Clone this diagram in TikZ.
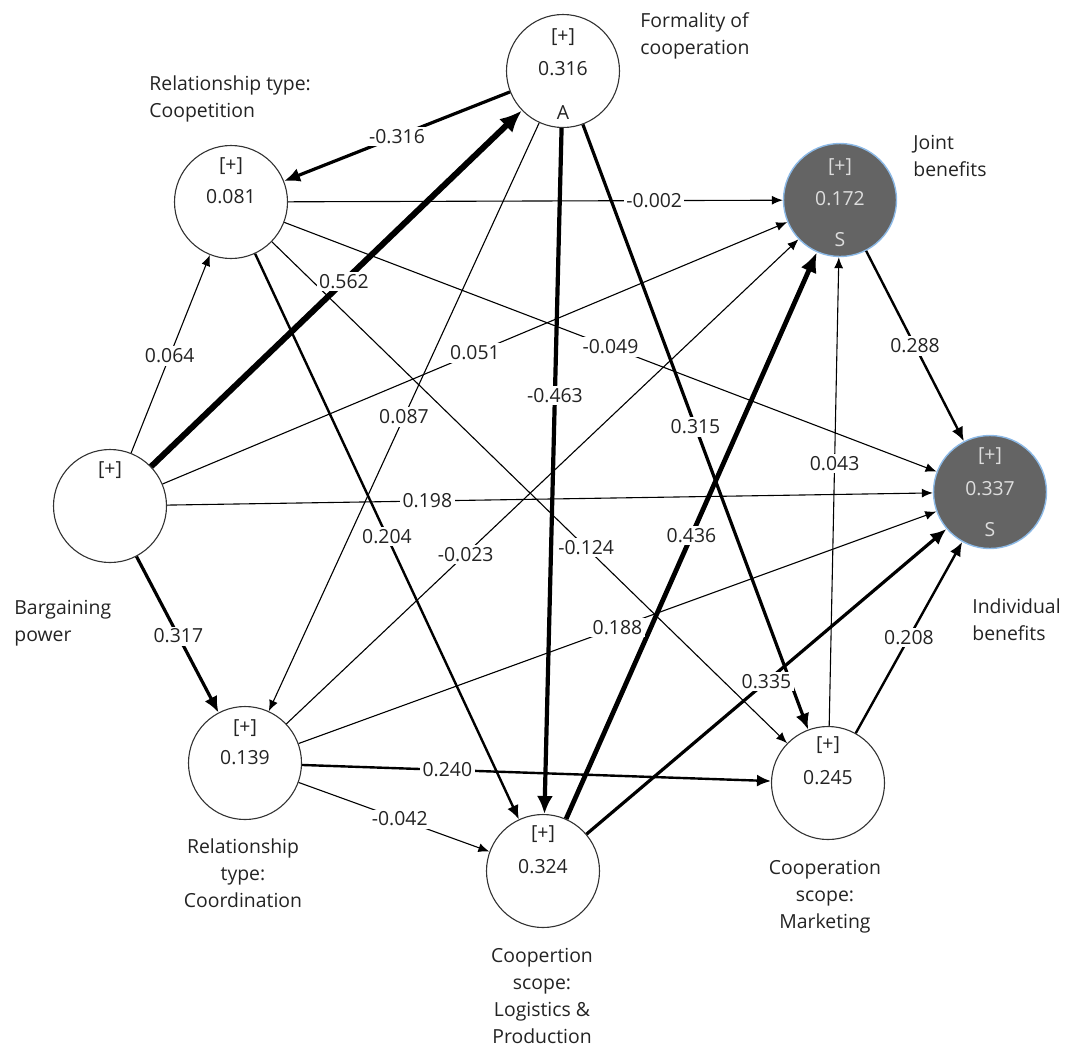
\documentclass[tikz,border=0pt]{standalone}
\usepackage{fontspec}
\setmainfont{Open Sans}
\usetikzlibrary{arrows.meta}
\definecolor{darkfill}{RGB}{100,100,100}
\definecolor{bordblue}{RGB}{140,185,230}
\definecolor{lighttext}{RGB}{222,222,222}
\definecolor{txt}{RGB}{35,35,35}
\begin{document}
\begin{tikzpicture}[x=0.5pt,y=-0.5pt,
  lv/.style={circle, draw=black!80, line width=0.55pt, fill=white, minimum size=56.5pt, inner sep=0pt},
  dv/.style={circle, draw=bordblue, line width=0.7pt, fill=darkfill, minimum size=56.5pt, inner sep=0pt},
  fnt/.style={font=\fontsize{9.7}{13.5}\selectfont},
  intxt/.style={fnt, text=txt, inner sep=0pt},
  dtxt/.style={fnt, text=lighttext, inner sep=0pt},
  capl/.style={fnt, text=txt, inner sep=0pt, align=left},
  capc/.style={fnt, text=txt, inner sep=0pt, align=center},
  elab/.style={fnt, text=txt, fill=white, inner sep=1.2pt},
  ea/.style={draw=black, line width=0.55pt, -{Latex[length=5.5pt,width=4.5pt]}},
  eb/.style={draw=black, line width=1.2pt, -{Latex[length=7pt,width=6pt]}},
  ec/.style={draw=black, line width=1.6pt, -{Latex[length=8pt,width=7pt]}},
  ed/.style={draw=black, line width=2.1pt, -{Latex[length=9pt,width=8pt]}},
  ee/.style={draw=black, line width=2.4pt, -{Latex[length=10pt,width=8.5pt]}},
  ef/.style={draw=black, line width=3pt, -{Latex[length=11pt,width=9.5pt]}}
]
\useasboundingbox (0,0) rectangle (1069,1050);

% latent variables
\node[lv] (F)  at (563,71)  {};
\node[lv] (C)  at (231,202) {};
\node[dv] (J)  at (840,200) {};
\node[lv] (B)  at (110,506) {};
\node[dv] (I)  at (990,492) {};
\node[lv] (Co) at (245,763) {};
\node[lv] (L)  at (543,871) {};
\node[lv] (M)  at (828,783) {};

% inner texts
\node[intxt] (Fp) at (563,37)  {[+]};
\node[intxt] (Fv) at (563,69)  {0.316};
\node[intxt] (Fa) at (563,113) {A};
\node[intxt] (Cp) at (231,166) {[+]};
\node[intxt] (Cv) at (231,197) {0.081};
\node[dtxt]  (Jp) at (840,167) {[+]};
\node[dtxt]  (Jv) at (840,199) {0.172};
\node[dtxt]  (Js) at (840,240) {S};
\node[intxt] (Bp) at (110,470) {[+]};
\node[dtxt]  (Ip) at (990,456) {[+]};
\node[dtxt]  (Iv) at (990,489) {0.337};
\node[dtxt]  (Is) at (990,530) {S};
\node[intxt] (Cop) at (245,728) {[+]};
\node[intxt] (Cov) at (245,758) {0.139};
\node[intxt] (Lp) at (543,834) {[+]};
\node[intxt] (Lv) at (543,867) {0.324};
\node[intxt] (Mp) at (828,745) {[+]};
\node[intxt] (Mv) at (828,778) {0.245};

% captions
\node[capl, anchor=north west] (Fc) at (640,12) {Formality of\\cooperation};
\node[capl, anchor=north west] (Cc) at (149,75) {Relationship type:\\Coopetition};
\node[capl, anchor=north west] (Jc) at (913,135) {Joint\\benefits};
\node[capl, anchor=north west] (Bc) at (14,600) {Bargaining\\power};
\node[capl, anchor=north west] (Ic) at (972,598) {Individual\\benefits};
\node[capc, anchor=north] (Coc) at (243,838) {Relationship\\type:\\Coordination};
\node[capc, anchor=north] (Lc) at (542,948) {Coopertion\\scope:\\Logistics \&\\Production};
\node[capc, anchor=north] (Mc) at (825,860) {Cooperation\\scope:\\Marketing};

% paths
\draw[ec] (F) -- coordinate[pos=0.50] (l1) (C);
\draw[ef] (B) -- coordinate[pos=0.52] (l2) (F);
\draw[ea] (C) -- coordinate[pos=0.74] (l3) (J);
\draw[ea] (C) -- coordinate[pos=0.50] (l4) (I);
\draw[eb] (C) -- coordinate[pos=0.50] (l5) (L);
\draw[ea] (C) -- coordinate[pos=0.61] (l6) (M);
\draw[ea] (B) -- coordinate[pos=0.49] (l7) (C);
\draw[ea] (B) -- coordinate[pos=0.50] (l8) (J);
\draw[ea] (B) -- coordinate[pos=0.34] (l9) (I);
\draw[ec] (B) -- coordinate[pos=0.51] (l10) (Co);
\draw[ea] (F) -- coordinate[pos=0.50] (l11) (Co);
\draw[ed] (F) -- coordinate[pos=0.39] (l12) (L);
\draw[ec] (F) -- coordinate[pos=0.50] (l13) (M);
\draw[ea] (Co) -- coordinate[pos=0.35] (l14) (J);
\draw[ea] (Co) -- coordinate[pos=0.50] (l15) (I);
\draw[eb] (Co) -- coordinate[pos=0.31] (l16) (M);
\draw[ea] (Co) -- coordinate[pos=0.53] (l17) (L);
\draw[ee] (L) -- coordinate[pos=0.50] (l18) (J);
\draw[ec] (L) -- coordinate[pos=0.50] (l19) (I);
\draw[ea] (M) -- coordinate[pos=0.56] (l20) (J);
\draw[eb] (M) -- coordinate[pos=0.50] (l21) (I);
\draw[eb] (J) -- coordinate[pos=0.50] (l22) (I);

% path labels
\node[elab] (t1) at (l1) {-0.316};
\node[elab] (t2) at (l2) {0.562};
\node[elab] (t3) at (l3) {-0.002};
\node[elab] (t4) at (l4) {-0.049};
\node[elab] (t5) at (l5) {0.204};
\node[elab] (t6) at (l6) {-0.124};
\node[elab] (t7) at (l7) {0.064};
\node[elab] (t8) at (l8) {0.051};
\node[elab] (t9) at (l9) {0.198};
\node[elab] (t10) at (l10) {0.317};
\node[elab] (t11) at (l11) {0.087};
\node[elab] (t12) at (l12) {-0.463};
\node[elab] (t13) at (l13) {0.315};
\node[elab] (t14) at (l14) {-0.023};
\node[elab] (t15) at (l15) {0.188};
\node[elab] (t16) at (l16) {0.240};
\node[elab] (t17) at (l17) {-0.042};
\node[elab] (t18) at (l18) {0.436};
\node[elab] (t19) at (l19) {0.335};
\node[elab] (t20) at (l20) {0.043};
\node[elab] (t21) at (l21) {0.208};
\node[elab] (t22) at (l22) {0.288};
\end{tikzpicture}
\end{document}
